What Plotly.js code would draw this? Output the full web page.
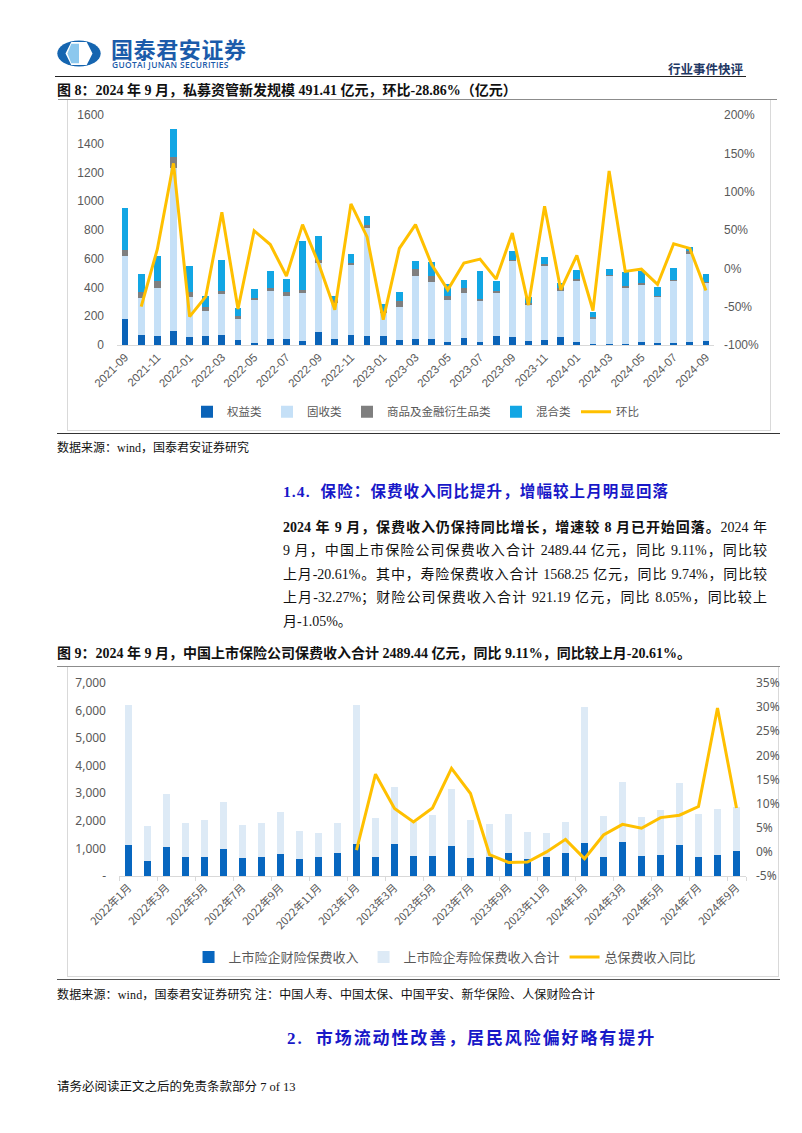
<!DOCTYPE html>
<html><head><meta charset="utf-8">
<script src="https://cdn.plot.ly/plotly-3.0.1.min.js"></script>
<style>
html,body{margin:0;padding:0;background:#fff;}
#page{position:relative;width:802px;height:1133px;overflow:hidden;font-family:"Liberation Serif","Noto Sans CJK SC",serif;color:#111;}
.abs{position:absolute;white-space:nowrap;}
.rule{position:absolute;height:0;}
.pl{width:484px;text-align:justify;text-align-last:justify;text-justify:inter-character;white-space:nowrap;}
</style></head>
<body><div id="page">
<svg class="abs" style="left:56px;top:40px" width="46" height="27" viewBox="0 0 46 28">
  <ellipse cx="23" cy="14" rx="22.5" ry="13.5" fill="#1565B0"/>
  <polygon points="15,2 31,2 37,14 31,26 15,26 9,14" fill="#ffffff"/>
  <polygon points="15,4 23,4 23,24 15,24 11,14" fill="#8CC8EE"/>
</svg>
<div class="abs" style="left:111px;top:38px;height:20px;line-height:20px;font-family:'Noto Sans CJK SC';font-weight:700;font-size:22px;color:#1B5BAA;letter-spacing:0.6px;">国泰君安证券</div>
<div class="abs" style="left:112px;top:61px;line-height:7px;font-family:'Open Sans','DejaVu Sans';font-weight:600;font-size:8.4px;color:#1B5BAA;letter-spacing:0.35px;">GUOTAI JUNAN SECURITIES</div>
<div class="abs" style="left:668px;top:59px;font-family:'Noto Sans CJK SC';font-weight:700;font-size:12.5px;color:#1F3864;">行业事件快评</div>
<div class="rule" style="left:55px;top:76px;width:691px;border-top:1.5px solid #222;"></div>

<div class="abs" style="left:57px;top:79px;font-size:14px;font-weight:700;">图 8：2024 年 9 月，私募资管新发规模 491.41 亿元，环比-28.86%（亿元）</div>
<div class="rule" style="left:58px;top:99px;width:719px;border-top:1px solid #8c8c8c;"></div>
<div class="abs" style="left:67px;top:100px;width:702px;height:330px;border:1px solid #D9D9D9;border-top:none;"></div>
<div id="c1" class="abs" style="left:67px;top:100px;width:703px;height:331px;"></div>
<div class="rule" style="left:57px;top:433px;width:723px;border-top:1.5px solid #333;"></div>
<div class="abs" style="left:57px;top:438px;font-size:12px;">数据来源：wind，国泰君安证券研究</div>

<div class="abs" style="left:283px;top:479px;font-size:15.5px;font-weight:700;color:#1818C8;letter-spacing:1.1px;">1.4.&nbsp; 保险：保费收入同比提升，增幅较上月明显回落</div>
<div class="abs" style="left:283px;top:516px;font-size:14px;line-height:23.4px;">
  <div class="pl"><b>2024 年 9 月，保费收入仍保持同比增长，增速较 8 月已开始回落。</b>2024 年</div>
  <div class="pl">9 月，中国上市保险公司保费收入合计 2489.44 亿元，同比 9.11%，同比较</div>
  <div class="pl">上月-20.61%。其中，寿险保费收入合计 1568.25 亿元，同比 9.74%，同比较</div>
  <div class="pl">上月-32.27%；财险公司保费收入合计 921.19 亿元，同比 8.05%，同比较上</div>
  <div>月-1.05%。</div>
</div>

<div class="abs" style="left:57px;top:642px;font-size:14px;font-weight:700;">图 9：2024 年 9 月，中国上市保险公司保费收入合计 2489.44 亿元，同比 9.11%，同比较上月-20.61%。</div>
<div class="rule" style="left:57px;top:666px;width:723px;border-top:1px solid #8c8c8c;"></div>
<div class="abs" style="left:67px;top:667px;width:710px;height:309px;border:1px solid #D9D9D9;border-top:none;"></div>
<div id="c2" class="abs" style="left:67px;top:667px;width:730px;height:310px;"></div>
<div class="rule" style="left:57px;top:979px;width:723px;border-top:1.5px solid #555;"></div>
<div class="abs" style="left:57px;top:985px;font-size:12px;letter-spacing:0.15px;">数据来源：wind，国泰君安证券研究 注：中国人寿、中国太保、中国平安、新华保险、人保财险合计</div>

<div class="abs" style="left:287px;top:1024px;font-size:17px;font-weight:700;color:#1818C8;letter-spacing:1.9px;">2.&nbsp; 市场流动性改善，居民风险偏好略有提升</div>
<div class="abs" style="left:57px;top:1076px;font-size:12.5px;">请务必阅读正文之后的免责条款部分 7 of 13</div>
</div>
<script>
// ---------- Chart 1 data (亿元, 环比 %) ----------
const months1 = ["2021-09","2021-10","2021-11","2021-12","2022-01","2022-02","2022-03","2022-04","2022-05","2022-06","2022-07","2022-08","2022-09","2022-10","2022-11","2022-12","2023-01","2023-02","2023-03","2023-04","2023-05","2023-06","2023-07","2023-08","2023-09","2023-10","2023-11","2023-12","2024-01","2024-02","2024-03","2024-04","2024-05","2024-06","2024-07","2024-08","2024-09"];
const tickLabels1 = ["2021-09","2021-11","2022-01","2022-03","2022-05","2022-07","2022-09","2022-11","2023-01","2023-03","2023-05","2023-07","2023-09","2023-11","2024-01","2024-03","2024-05","2024-07","2024-09"];
const equity = [181,72,63,100,56,60,70,37,16,39,39,28,93,39,67,63,60,32,42,39,19,51,21,63,53,30,35,53,21,9,9,7,19,12,12,21,26];
const fixedIncome = [438,253,336,1134,280,177,282,146,299,337,302,336,475,256,490,753,165,235,438,402,294,313,285,301,529,248,517,323,427,174,471,387,398,324,433,612,408];
const commodity = [42,46,49,76,35,25,26,21,12,18,28,19,23,18,16,19,14,41,46,39,28,33,12,14,9,17,12,18,9,9,7,16,17,7,7,23,7];
const mixed = [294,123,173,193,179,79,213,51,63,121,90,338,170,28,62,62,49,63,61,100,81,55,195,67,63,41,51,40,65,38,42,100,81,58,86,28,50];
const mom = [null,-50,25,137,-63,-37,73,-53,49,31,-10,57,6,-54,84,41,-67,26,57,5,-28,7,12,-14,46,-48,81,-28,17,-55,127,-4,-1,-21,32,26,-28.86];
const yTicks1 = [0,200,400,600,800,1000,1200,1400,1600];
const y2Ticks1 = [-100,-50,0,50,100,150,200];
const y2Text1 = ["-100%","-50%","0%","50%","100%","150%","200%"];

// ---------- Chart 2 data (亿元, 同比 %) ----------
const months2 = ["2022年1月","2022年2月","2022年3月","2022年4月","2022年5月","2022年6月","2022年7月","2022年8月","2022年9月","2022年10月","2022年11月","2022年12月","2023年1月","2023年2月","2023年3月","2023年4月","2023年5月","2023年6月","2023年7月","2023年8月","2023年9月","2023年10月","2023年11月","2023年12月","2024年1月","2024年2月","2024年3月","2024年4月","2024年5月","2024年6月","2024年7月","2024年8月","2024年9月"];
const tickLabels2 = ["2022年1月","2022年3月","2022年5月","2022年7月","2022年9月","2022年11月","2023年1月","2023年3月","2023年5月","2023年7月","2023年9月","2023年11月","2024年1月","2024年3月","2024年5月","2024年7月","2024年9月"];
const propertyIns = [1132,548,1034,681,706,986,669,681,803,633,681,840,1156,694,1144,730,730,1071,657,694,840,633,694,852,1193,694,1229,742,779,1132,706,755,921.19];
const lifeIns = [5075,1265,1935,1242,1339,1704,1181,1230,1521,1010,877,1071,5051,1424,2081,1217,1497,2093,1388,1192,1411,961,864,1095,4928,1472,2179,1412,1606,2251,1545,1691,1568.25];
const yoy = [null,null,null,null,null,null,null,null,null,null,null,null,0.35,16.1,9.0,6.2,9.1,17.3,12.1,-0.55,-2.2,-2.1,0,2.6,-1.4,3.5,5.7,4.9,7.1,7.6,9.4,29.8,9.11];
const yTicks2 = [0,1000,2000,3000,4000,5000,6000,7000];
const yTickText2 = ["-","1,000","2,000","3,000","4,000","5,000","6,000","7,000"];
const y2Ticks2 = [-5,0,5,10,15,20,25,30,35];
const y2Text2 = ["-5%","0%","5%","10%","15%","20%","25%","30%","35%"];

const gray = "#595959";
const tf = {family:"Liberation Sans, Arial, sans-serif", size:12, color:gray};

Plotly.newPlot("c1", [
  {type:"bar", name:"权益类", x:months1, y:equity, marker:{color:"#0A63B8"}},
  {type:"bar", name:"固收类", x:months1, y:fixedIncome, marker:{color:"#C5E0F7"}},
  {type:"bar", name:"商品及金融衍生品类", x:months1, y:commodity, marker:{color:"#7F7F7F"}},
  {type:"bar", name:"混合类", x:months1, y:mixed, marker:{color:"#12A6E4"}},
  {type:"scatter", mode:"lines", name:"环比", x:months1, y:mom, yaxis:"y2", line:{color:"#FFC000", width:3}, connectgaps:false}
], {
  width:703, height:331, barmode:"stack", bargap:0.58,
  margin:{l:50, r:56, t:15, b:86, autoexpand:false},
  paper_bgcolor:"rgba(0,0,0,0)", plot_bgcolor:"rgba(0,0,0,0)",
  showlegend:true,
  legend:{orientation:"h", x:0.5, xanchor:"center", y:-0.29, yanchor:"middle", font:{family:"Noto Sans CJK SC", size:11.5, color:gray}, itemwidth:30, traceorder:"normal"},
  xaxis:{type:"category", automargin:false, tickmode:"array", tickvals:tickLabels1, ticktext:tickLabels1, tickangle:-45, tickfont:{family:"Liberation Sans, Arial", size:11.5, color:gray}, showline:true, linecolor:"#D9D9D9", linewidth:1, ticks:"", showgrid:false, zeroline:false},
  yaxis:{automargin:false, range:[0,1600], tickmode:"array", tickvals:yTicks1, tickfont:tf, showgrid:false, zeroline:false, ticks:"", ticklabelstandoff:12},
  yaxis2:{automargin:false, overlaying:"y", side:"right", range:[-100,200], tickmode:"array", tickvals:y2Ticks1, ticktext:y2Text1, tickfont:tf, showgrid:false, zeroline:false, ticks:"", ticklabelstandoff:9}
}, {staticPlot:true});

Plotly.newPlot("c2", [
  {type:"bar", name:"上市险企财险保费收入", x:months2, y:propertyIns, marker:{color:"#0766BF"}},
  {type:"bar", name:"上市险企寿险保费收入合计", x:months2, y:lifeIns, marker:{color:"#DDEAF6"}},
  {type:"scatter", mode:"lines", name:"总保费收入同比", x:months2, y:yoy, yaxis:"y2", line:{color:"#FFC000", width:3}}
], {
  width:730, height:310, barmode:"stack", bargap:0.62,
  margin:{l:52, r:51, t:16, b:101, autoexpand:false},
  paper_bgcolor:"rgba(0,0,0,0)", plot_bgcolor:"rgba(0,0,0,0)",
  showlegend:true,
  legend:{orientation:"h", x:0.52, xanchor:"center", y:-0.42, yanchor:"middle", font:{family:"Noto Sans CJK SC", size:13, color:gray}, itemwidth:30, traceorder:"normal"},
  xaxis:{type:"category", automargin:false, tickmode:"array", tickvals:tickLabels2, ticktext:tickLabels2, tickangle:-45, tickfont:{family:"Noto Sans CJK SC", size:11, color:gray}, showline:true, linecolor:"#D9D9D9", linewidth:1, ticks:"outside", ticklen:4, tickcolor:"#D9D9D9", tickson:"boundaries", showgrid:false, zeroline:false},
  yaxis:{automargin:false, range:[0,7000], tickmode:"array", tickvals:yTicks2, ticktext:yTickText2, tickfont:{family:"Noto Sans, Liberation Sans", size:12, color:gray}, showgrid:false, zeroline:false, ticks:"", ticklabelstandoff:12},
  yaxis2:{automargin:false, overlaying:"y", side:"right", range:[-5,35], tickmode:"array", tickvals:y2Ticks2, ticktext:y2Text2, tickfont:{family:"Noto Sans, Liberation Sans", size:12, color:gray}, showgrid:false, zeroline:false, ticks:"", ticklabelstandoff:9}
}, {staticPlot:true});
</script>
</body></html>
